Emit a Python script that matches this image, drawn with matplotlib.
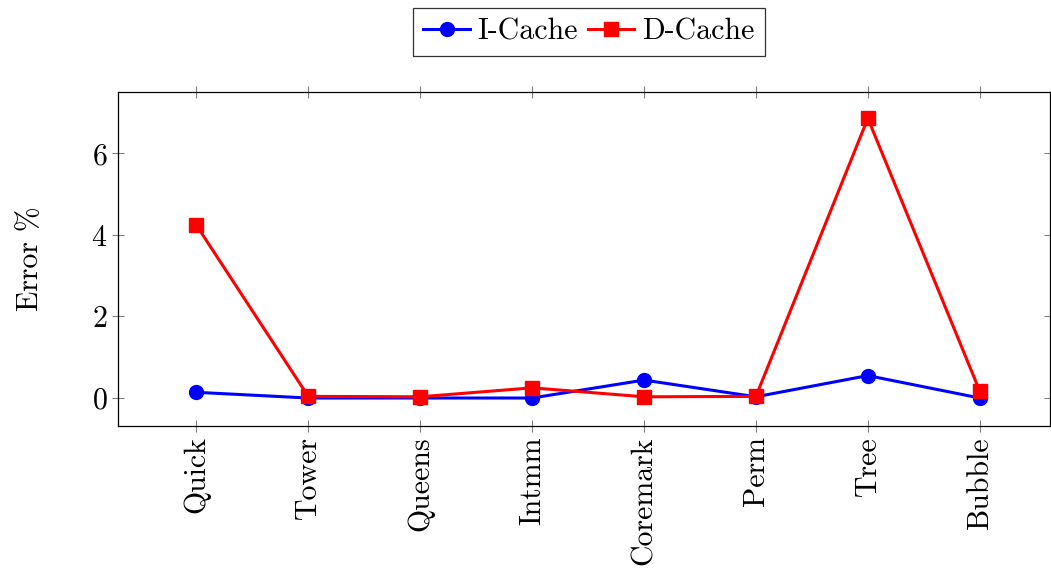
import matplotlib.pyplot as plt

plt.rcParams['font.family'] = 'cmr10'
plt.rcParams['mathtext.fontset'] = 'cm'
plt.rcParams['axes.formatter.use_mathtext'] = True

benchmarks = ['Quick', 'Tower', 'Queens', 'Intmm', 'Coremark', 'Perm', 'Tree', 'Bubble']
icache = [0.14, 0.0, 0.0, 0.0, 0.44, 0.03, 0.55, 0.0]
dcache = [4.24, 0.04, 0.03, 0.25, 0.03, 0.04, 6.86, 0.17]

fig = plt.figure(figsize=(10.51, 5.73), dpi=100)
ax = fig.add_axes([0.1123, 0.257, 0.887, 0.582])

x = range(len(benchmarks))
ax.plot(x, icache, color='blue', lw=2.2, marker='o', ms=10, label='I-Cache')
ax.plot(x, dcache, color='red', lw=2.2, marker='s', ms=10, label='D-Cache')

ax.set_xlim(-0.70, 7.63)
ax.set_ylim(-0.68, 7.5)
ax.set_yticks([0, 2, 4, 6])
ax.set_xticks(list(x))
ax.set_xticklabels(benchmarks, rotation=90, fontsize=21.5)
ax.tick_params(axis='y', labelsize=21.5)
ax.tick_params(direction='inout', length=8, color='gray', width=0.8,
               top=True, right=True)
ax.set_ylabel('Error %', fontsize=21.5, labelpad=34)
for s in ax.spines.values():
    s.set_linewidth(0.9)

leg = ax.legend(loc='lower center', bbox_to_anchor=(0.505, 1.082), ncol=2, fontsize=21.5,
                frameon=True, fancybox=False, edgecolor='black',
                handlelength=1.55, handletextpad=0.25, columnspacing=0.35,
                borderpad=0.35, borderaxespad=0.3)
leg.get_frame().set_linewidth(0.9)

fig.savefig('out.png', dpi=100)
